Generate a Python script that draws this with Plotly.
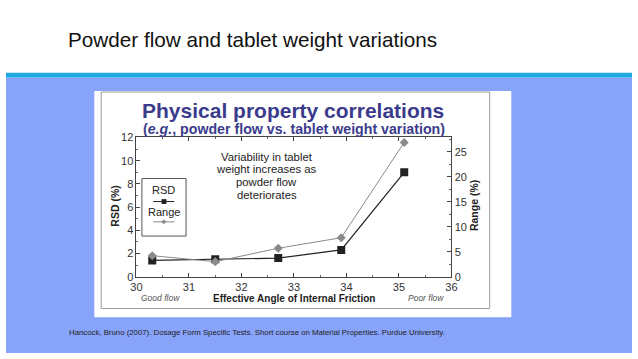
import plotly.graph_objects as go

# ---- data ----
angle = [30.3, 31.5, 32.7, 33.9, 35.1]
rsd_pct = [1.4, 1.5, 1.6, 2.3, 9.0]
range_pct = [4.2, 3.0, 5.7, 7.8, 26.9]
x_ticks = [30, 31, 32, 33, 34, 35, 36]
rsd_ticks = [0, 2, 4, 6, 8, 10, 12]
range_ticks = [0, 5, 10, 15, 20, 25]

W, H = 638, 359
def px(x):
    return x / W
def py(y):
    return 1 - y / H

FONT = "Liberation Sans, Arial, sans-serif"
NAVY = "#3b3b8c"

fig = go.Figure()
fig.add_trace(go.Scatter(
    x=angle, y=rsd_pct, name="RSD", mode="lines+markers",
    line=dict(color="#222222", width=1.2),
    marker=dict(symbol="square", size=8, color="#222222"),
    yaxis="y", showlegend=False))
fig.add_trace(go.Scatter(
    x=angle, y=range_pct, name="Range", mode="lines+markers",
    line=dict(color="#8a8a8a", width=1),
    marker=dict(symbol="diamond", size=7, color="#8a8a8a"),
    yaxis="y2", showlegend=False))

shapes = [
    dict(type="rect", xref="paper", yref="paper", x0=0, x1=1, y0=0, y1=py(74),
         fillcolor="#87a3fa", line=dict(width=0), layer="below"),
    dict(type="rect", xref="paper", yref="paper", x0=0, x1=1, y0=py(74), y1=py(69),
         fillcolor="#1eaae3", line=dict(width=0), layer="below"),
    dict(type="rect", xref="paper", yref="paper", x0=px(90), x1=px(515), y0=py(322), y1=py(88),
         fillcolor="white", line=dict(width=0), layer="below"),
    dict(type="rect", xref="paper", yref="paper", x0=px(97), x1=px(493), y0=py(313), y1=py(89),
         fillcolor="rgba(0,0,0,0)", line=dict(color="#9a9a9a", width=1), layer="below"),
    # manual legend box
    dict(type="rect", xref="paper", yref="paper", x0=px(138.5), x1=px(183.5), y0=py(238), y1=py(178.5),
         fillcolor="white", line=dict(color="#555555", width=1)),
    dict(type="line", xref="paper", yref="paper", x0=px(150), x1=px(171.5), y0=py(202.3), y1=py(202.3),
         line=dict(color="#222222", width=1)),
    dict(type="rect", xref="paper", yref="paper", x0=px(158.5), x1=px(163.5), y0=py(204.8), y1=py(199.8),
         fillcolor="#222222", line=dict(width=0)),
    dict(type="line", xref="paper", yref="paper", x0=px(150), x1=px(171.5), y0=py(223.3), y1=py(223.3),
         line=dict(color="#8a8a8a", width=1)),
    dict(type="path", xref="paper", yref="paper",
         path=f"M {px(160.8)} {py(220.8)} L {px(163.3)} {py(223.3)} L {px(160.8)} {py(225.8)} L {px(158.3)} {py(223.3)} Z",
         fillcolor="#8a8a8a", line=dict(width=0)),
]

def ann(text, x, y, size, color="#222222", xanchor="center", angle=0, bold=False, italic=False):
    t = text
    if bold:
        t = f"<b>{t}</b>"
    if italic:
        t = f"<i>{t}</i>"
    return dict(text=t, x=px(x), y=py(y), xref="paper", yref="paper", showarrow=False,
                xanchor=xanchor, yanchor="middle", textangle=angle,
                font=dict(family=FONT, size=size, color=color))

note_lines = ["Variability in tablet", "weight increases as", "powder flow", "deteriorates"]
note_y = [155.8, 169.1, 182.5, 195.8]

annotations = [
    ann("Powder flow and tablet weight variations", 61, 35, 20.7, color="#111111", xanchor="left"),
    ann("Physical property correlations", 293, 108, 21, color=NAVY, bold=True),
    ann("(<i>e.g.</i>, powder flow vs. tablet weight variation)", 294, 127.5, 14.2, color=NAVY, bold=True),
    ann("RSD", 160.8, 190.7, 11),
    ann("Range", 161, 213.3, 11),
    ann("RSD (%)", 110.7, 207, 10.5, bold=True, angle=-90),
    ann("Range (%)", 477, 207, 10.5, bold=True, angle=-90),
    ann("Effective Angle of Internal Friction", 294, 302.5, 10, bold=True),
    ann("Good flow", 157, 302, 8.5, color="#555555", italic=True),
    ann("Poor flow", 428, 302, 8.5, color="#555555", italic=True),
    ann("Hancock, Bruno (2007). Dosage Form Specific Tests. Short course on Material Properties. Purdue University.",
        62, 337.7, 7.8, color="#222222", xanchor="left"),
]
for line, yv in zip(note_lines, note_y):
    annotations.append(ann(line, 266, yv, 11.3))

tickfont = dict(family=FONT, size=11, color="#333333")
fig.update_layout(
    width=W, height=H,
    margin=dict(l=0, r=0, t=0, b=0),
    paper_bgcolor="white", plot_bgcolor="white",
    showlegend=False,
    shapes=shapes, annotations=annotations,
    xaxis=dict(domain=[px(133), px(454)], range=[30, 36], tickvals=x_ticks,
               ticks="inside", ticklen=4, tickcolor="#444", showgrid=False, zeroline=False,
               showline=True, linecolor="#444", linewidth=1, mirror="ticks",
               minor=dict(dtick=0.5, ticks="inside", ticklen=2, tickcolor="#666"),
               tickfont=tickfont, fixedrange=True),
    yaxis=dict(domain=[py(280), py(136)], range=[0, 12], tickvals=rsd_ticks,
               ticks="inside", ticklen=4, tickcolor="#444", showgrid=False, zeroline=False,
               showline=True, linecolor="#444", linewidth=1, mirror=True,
               minor=dict(dtick=1, ticks="inside", ticklen=2, tickcolor="#666"),
               tickfont=tickfont, fixedrange=True),
    yaxis2=dict(overlaying="y", side="right", anchor="x", range=[0, 27.9], tickvals=range_ticks,
                ticks="inside", ticklen=4, tickcolor="#444", showgrid=False, zeroline=False,
                showline=True, linecolor="#444", linewidth=1,
                minor=dict(dtick=2.5, ticks="inside", ticklen=2, tickcolor="#666"),
                tickfont=tickfont, fixedrange=True),
)

fig.write_html(
    "out.html",
    config={"displayModeBar": False, "staticPlot": True},
    post_script="document.documentElement.style.margin='0';document.body.style.margin='0';"
                "document.body.style.padding='0';"
                "document.documentElement.style.overflow='hidden';document.body.style.overflow='hidden';"
                "var d=document.querySelector('.plotly-graph-div');"
                "d.style.position='fixed';d.style.left='0px';d.style.top='0px';",
)
